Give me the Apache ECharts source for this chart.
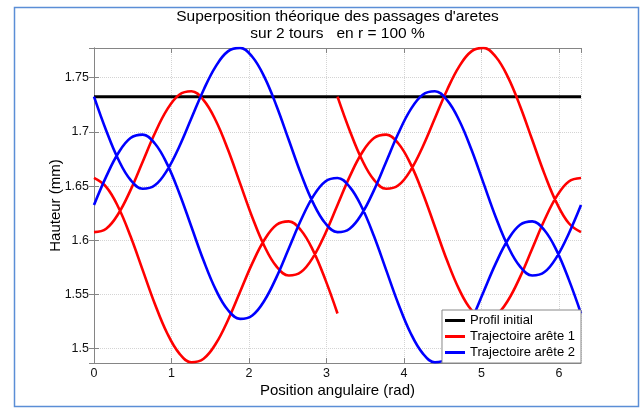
<!DOCTYPE html>
<html>
<head>
<meta charset="utf-8">
<script src="https://cdn.jsdelivr.net/npm/echarts@6/dist/echarts.min.js"></script>
<style>
  html, body { margin: 0; padding: 0; background: #fff; }
  #chart { width: 641px; height: 408px; }
</style>
</head>
<body>
<div id="chart"></div>
<script>
// profil de depart et trajectoires des deux aretes sur 2 tours
var profilInitial = 1.7325;
var pas = Math.PI / 20;       // echantillonnage angulaire (rad)
var departArete1 = Math.PI;   // arete 1 entre en prise a pi
var departArete2 = 0;         // arete 2 entre en prise a 0

// hauteurs (mm), un point tous les pi/20, 2 tours
var hauteurArete1 = [
  1.7325, 1.7013, 1.6745, 1.6557, 1.6475, 1.6507, 1.6645, 1.6863, 1.7125, 1.7387,
  1.7605, 1.7743, 1.7775, 1.7693, 1.7505, 1.7237, 1.6925, 1.6613, 1.6345, 1.6157,
  1.6075, 1.6107, 1.6245, 1.6463, 1.6725, 1.6987, 1.7205, 1.7343, 1.7375, 1.7293,
  1.7105, 1.6837, 1.6525, 1.6213, 1.5945, 1.5757, 1.5675, 1.5707, 1.5845, 1.6063,
  1.6325, 1.6587, 1.6805, 1.6943, 1.6975, 1.6893, 1.6705, 1.6437, 1.6125, 1.5813,
  1.5545, 1.5357, 1.5275, 1.5307, 1.5445, 1.5663, 1.5925, 1.6187, 1.6405, 1.6543,
  1.6575, 1.6493, 1.6305, 1.6037, 1.5725, 1.5413, 1.5145, 1.4957, 1.4875, 1.4907,
  1.5045, 1.5263, 1.5525, 1.5787, 1.6005, 1.6143, 1.6175, 1.6093, 1.5905, 1.5637,
  1.5325
];
var hauteurArete2 = [
  1.7325, 1.7013, 1.6745, 1.6557, 1.6475, 1.6507, 1.6645, 1.6863, 1.7125, 1.7387,
  1.7605, 1.7743, 1.7775, 1.7693, 1.7505, 1.7237, 1.6925, 1.6613, 1.6345, 1.6157,
  1.6075, 1.6107, 1.6245, 1.6463, 1.6725, 1.6987, 1.7205, 1.7343, 1.7375, 1.7293,
  1.7105, 1.6837, 1.6525, 1.6213, 1.5945, 1.5757, 1.5675, 1.5707, 1.5845, 1.6063,
  1.6325, 1.6587, 1.6805, 1.6943, 1.6975, 1.6893, 1.6705, 1.6437, 1.6125, 1.5813,
  1.5545, 1.5357, 1.5275, 1.5307, 1.5445, 1.5663, 1.5925, 1.6187, 1.6405, 1.6543,
  1.6575, 1.6493, 1.6305, 1.6037, 1.5725, 1.5413, 1.5145, 1.4957, 1.4875, 1.4907,
  1.5045, 1.5263, 1.5525, 1.5787, 1.6005, 1.6143, 1.6175, 1.6093, 1.5905, 1.5637,
  1.5325
];
var yMin = 1.4868, yMax = 1.7774;

var deuxPi = 2 * Math.PI;
var police = '"Liberation Sans", Arial, sans-serif';

// ramene les angles sur [0, 2pi] et coupe la courbe a chaque nouveau tour
function surUnTour(hauteurs, depart) {
  var data = [];
  var tour = 0;
  hauteurs.forEach(function (h, k) {
    var x = depart + k * pas - tour * deuxPi;
    data.push([x, h]);
    if (Math.abs(x - deuxPi) < 1e-9 && k < hauteurs.length - 1) {
      data.push([deuxPi, '-']);
      data.push([0, h]);
      tour++;
    }
  });
  return data;
}

var chart = echarts.init(document.getElementById('chart'), null, { renderer: 'canvas' });

var axeGris = '#858585';
var option = {
  animation: false,
  backgroundColor: '#fff',
  textStyle: { fontFamily: police },
  grid: { left: 94, right: 60, top: 48, bottom: 45 },
  graphic: [
    {
      type: 'rect', left: 12, top: 5, z: -10,
      shape: { width: 624, height: 399 },
      style: { fill: 'none', stroke: '#5b8ed6', lineWidth: 1.5 }
    },
    {
      type: 'text', x: 337.5, y: 8.5,
      style: {
        text: "Superposition théorique des passages d'aretes\nsur 2 tours   en r = 100 %",
        align: 'center', verticalAlign: 'top',
        font: '15.5px ' + police, lineHeight: 16.5, fill: '#000'
      }
    }
  ],
  legend: {
    orient: 'vertical', right: 60, bottom: 45,
    data: ['Profil initial', 'Trajectoire arête 1', 'Trajectoire arête 2'],
    icon: 'rect', itemWidth: 20, itemHeight: 3, itemGap: 3,
    padding: [4, 6, 4, 3],
    backgroundColor: '#fff', borderColor: '#888', borderWidth: 1, borderRadius: 0,
    textStyle: { fontSize: 13, color: '#000', fontFamily: police }
  },
  xAxis: [
    {
      type: 'value', min: 0, max: deuxPi, interval: 1,
      name: 'Position angulaire (rad)', nameLocation: 'middle', nameGap: 20,
      nameMoveOverlap: false,
      nameTextStyle: { fontSize: 15, color: '#000' },
      axisLine: { lineStyle: { color: axeGris, width: 1 } },
      axisTick: { inside: true, length: 5, lineStyle: { color: axeGris } },
      axisLabel: { showMaxLabel: false, fontSize: 12.5, color: '#111', margin: 4 },
      splitLine: { show: true, lineStyle: { color: '#d4d4d4', type: 'dotted' } }
    },
    {
      type: 'value', position: 'top', min: 0, max: deuxPi, interval: 1,
      axisLine: { lineStyle: { color: axeGris, width: 1 } },
      axisTick: { inside: true, length: 5, lineStyle: { color: axeGris } },
      axisLabel: { show: false },
      splitLine: { show: false }
    }
  ],
  yAxis: [
    {
      type: 'value', min: yMin, max: yMax, splitNumber: 5,
      name: 'Hauteur (mm)', nameLocation: 'middle', nameGap: 31,
      nameMoveOverlap: false,
      nameTextStyle: { fontSize: 15, color: '#000' },
      axisLine: { show: true, lineStyle: { color: axeGris, width: 1 } },
      axisTick: { show: true, inside: true, length: 5, lineStyle: { color: axeGris } },
      axisLabel: { showMinLabel: false, showMaxLabel: false, fontSize: 12.5, color: '#111', margin: 5 },
      splitLine: { show: true, lineStyle: { color: '#d4d4d4', type: 'dotted' } }
    },
    {
      type: 'value', position: 'right', min: yMin, max: yMax, splitNumber: 5,
      axisLine: { show: true, lineStyle: { color: axeGris, width: 1 } },
      axisTick: { show: true, inside: true, length: 5, lineStyle: { color: axeGris } },
      axisLabel: { show: false },
      splitLine: { show: false }
    }
  ],
  series: [
    {
      name: 'Profil initial', type: 'line', color: '#000',
      showSymbol: false, symbol: 'none',
      lineStyle: { color: '#000', width: 3 },
      data: [[0, profilInitial], [deuxPi, profilInitial]]
    },
    {
      name: 'Trajectoire arête 1', type: 'line', color: '#ff0000',
      showSymbol: false, symbol: 'none', smooth: 0.4,
      lineStyle: { color: '#ff0000', width: 2.6 },
      data: surUnTour(hauteurArete1, departArete1)
    },
    {
      name: 'Trajectoire arête 2', type: 'line', color: '#0000ff',
      showSymbol: false, symbol: 'none', smooth: 0.4,
      lineStyle: { color: '#0000ff', width: 2.6 },
      data: surUnTour(hauteurArete2, departArete2)
    }
  ]
};
chart.setOption(option);
</script>
</body>
</html>
